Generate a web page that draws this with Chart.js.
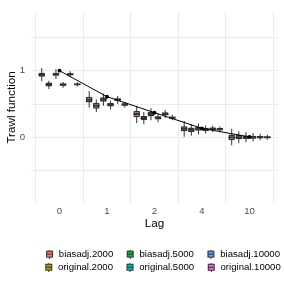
<!DOCTYPE html>
<html><head><meta charset="utf-8">
<script src="https://cdn.jsdelivr.net/npm/chart.js@4/dist/chart.umd.min.js"></script>
<style>html,body{margin:0;padding:0;background:#fff}</style>
</head><body>
<canvas id="c" width="284" height="284"></canvas>
<script>
// ---- data ----
const lagLabels = ['0', '1', '2', '4', '10'];
const seriesNames = ['biasadj.2000', 'original.2000', 'biasadj.5000', 'original.5000', 'biasadj.10000', 'original.10000'];
const seriesColors = ['#F8766D', '#B79F00', '#00BA38', '#00BFC4', '#619CFF', '#F564E3'];
// [lower whisker, q1, median, q3, upper whisker] for each lag
const biasadj2000   = [[0.84, 0.909, 0.94, 0.971, 1.04], [0.447, 0.524, 0.565, 0.611, 0.697], [0.216, 0.303, 0.35, 0.394, 0.476], [0.0, 0.091, 0.13, 0.168, 0.245], [-0.12, -0.043, 0.0, 0.043, 0.13]];
const original2000  = [[0.726, 0.764, 0.79, 0.822, 0.851], [0.38, 0.428, 0.475, 0.519, 0.567], [0.197, 0.255, 0.29, 0.322, 0.38], [0.024, 0.082, 0.115, 0.149, 0.197], [-0.087, -0.029, 0.0, 0.034, 0.09]];
const biasadj5000   = [[0.875, 0.923, 0.947, 0.971, 1.02], [0.476, 0.534, 0.567, 0.6, 0.659], [0.255, 0.313, 0.35, 0.385, 0.437], [0.048, 0.101, 0.13, 0.159, 0.207], [-0.072, -0.024, 0.003, 0.029, 0.082]];
const original5000  = [[0.745, 0.774, 0.79, 0.81, 0.83], [0.418, 0.462, 0.49, 0.514, 0.553], [0.226, 0.269, 0.293, 0.317, 0.36], [0.058, 0.091, 0.117, 0.144, 0.178], [-0.063, -0.019, 0.002, 0.024, 0.067]];
const biasadj10000  = [[0.9, 0.933, 0.947, 0.96, 0.99], [0.505, 0.543, 0.565, 0.587, 0.62], [0.29, 0.327, 0.35, 0.375, 0.41], [0.082, 0.111, 0.13, 0.149, 0.173], [-0.043, -0.014, 0.003, 0.019, 0.053]];
const original10000 = [[0.764, 0.784, 0.795, 0.808, 0.827], [0.447, 0.476, 0.493, 0.51, 0.534], [0.255, 0.279, 0.295, 0.312, 0.341], [0.077, 0.106, 0.12, 0.139, 0.163], [-0.034, -0.01, 0.002, 0.014, 0.038]];
const trueTrawl = [1.0, 0.61, 0.37, 0.135, 0.007];
const yGridValues = [-0.5, 0, 0.5, 1, 1.5];
const yTickValues = [0, 1];

// ---- drawing ----
const series = [biasadj2000, original2000, biasadj5000, original5000, biasadj10000, original10000];
const legendOrder = [0, 2, 4, 1, 3, 5];
const DARK = '#333333';
const MED_HALF = 0.0145;
const FONT = "'Liberation Sans', Arial, Helvetica, sans-serif";

function glyph(color) {
  const W = 18, H = 9;
  const c = document.createElement('canvas');
  c.width = W; c.height = H;
  const g = c.getContext('2d');
  g.fillStyle = DARK; g.fillRect(13, 0, 1, H);
  g.fillStyle = DARK; g.fillRect(10, 1, 7, 7);
  g.fillStyle = color; g.fillRect(11, 2, 5, 5);
  g.fillStyle = DARK; g.fillRect(11, 4, 5, 1);
  return c;
}

const datasets = [];
const common = { type: 'bar', categoryPercentage: 0.9, barPercentage: 0.9, borderSkipped: false };
series.forEach((s, k) => {
  datasets.push(Object.assign({}, common, {
    label: seriesNames[k], stack: 's' + k, order: 1,
    data: s.map((d, i) => ({ x: i, y: [d[2] - MED_HALF, d[2] + MED_HALF] })),
    backgroundColor: DARK, borderWidth: 0
  }));
});
series.forEach((s, k) => {
  datasets.push(Object.assign({}, common, {
    label: seriesNames[k], stack: 's' + k, order: 2,
    data: s.map((d, i) => ({ x: i, y: [d[1], d[3]] })),
    backgroundColor: seriesColors[k], borderColor: DARK, borderWidth: 1.5
  }));
});
series.forEach((s, k) => {
  datasets.push(Object.assign({}, common, {
    label: seriesNames[k], stack: 's' + k, order: 3,
    data: s.map((d, i) => ({ x: i, y: [d[0], d[4]] })),
    backgroundColor: DARK, borderWidth: 0, maxBarThickness: 1
  }));
});
datasets.push({
  type: 'line', label: 'true', order: 0,
  data: trueTrawl.map((v, i) => ({ x: i, y: v })),
  borderColor: '#000', backgroundColor: '#000', borderWidth: 1,
  pointRadius: 1.9, pointBackgroundColor: '#000', pointBorderWidth: 0, tension: 0
});

const shiftLegend = {
  id: 'shiftLegend',
  afterLayout(chart) { const l = chart.legend; if (l) { l.left += 17; l.right += 17; } }
};

new Chart(document.getElementById('c'), {
  type: 'bar',
  data: { datasets },
  plugins: [shiftLegend],
  options: {
    responsive: false, animation: false,
    layout: { padding: { top: 5, left: 4, right: 6, bottom: 2 } },
    plugins: {
      tooltip: { enabled: false },
      legend: {
        position: 'bottom',
        labels: {
          usePointStyle: true, pointStyleWidth: 18, padding: 3.5,
          color: '#000', font: { family: FONT, size: 9.6 },
          generateLabels: () => legendOrder.map(k => ({
            text: seriesNames[k], pointStyle: glyph(seriesColors[k]),
            fillStyle: seriesColors[k], strokeStyle: DARK, lineWidth: 0, hidden: false, datasetIndex: k
          }))
        }
      }
    },
    scales: {
      x: {
        type: 'linear', min: -0.6, max: 4.6, offset: false,
        afterBuildTicks: s => { s.ticks = lagLabels.map((_, i) => ({ value: i })); },
        afterFit: s => { s.height = 42.7; },
        grid: { color: '#EBEBEB', lineWidth: 1, drawTicks: false },
        border: { display: false },
        ticks: { padding: 2.2, color: '#4D4D4D', font: { family: FONT, size: 9.6 },
          callback: v => lagLabels[v] },
        title: { display: true, text: 'Lag', color: '#000', font: { family: FONT, size: 11.7 }, padding: { top: 0, bottom: 15.2 } }
      },
      y: {
        type: 'linear', min: -0.986, max: 1.884, stacked: false,
        afterBuildTicks: s => { s.ticks = yGridValues.map(v => ({ value: v })); },
        afterFit: s => { s.width = 27; },
        grid: { color: '#EBEBEB', lineWidth: 1, drawTicks: false },
        border: { display: false },
        ticks: { padding: 6, color: '#4D4D4D', font: { family: FONT, size: 9.6 },
          callback: v => yTickValues.includes(v) ? String(v) : '' },
        title: { display: true, text: 'Trawl function', color: '#000', font: { family: FONT, size: 11.7 }, padding: { top: 0.5, bottom: 0 } }
      }
    }
  }
});
</script>
</body></html>
